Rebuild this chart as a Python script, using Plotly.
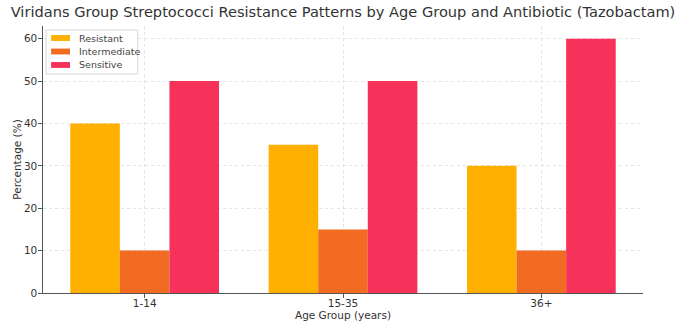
import plotly.graph_objects as go

categories = ["1-14", "15-35", "36+"]
resistant = [40, 35, 30]
intermediate = [10, 15, 10]
sensitive = [50, 50, 60]
series_names = ["Resistant", "Intermediate", "Sensitive"]
colors = ["#FFB000", "#F26B22", "#F7325A"]

fig = go.Figure()
for name, vals, c in zip(series_names, [resistant, intermediate, sensitive], colors):
    fig.add_trace(go.Bar(x=categories, y=vals, name=name, showlegend=False,
                         marker=dict(color=c, line=dict(width=0))))

font = "DejaVu Sans, sans-serif"

# compact legend (matplotlib style) drawn in paper coordinates
fig.add_shape(type="rect", xref="paper", yref="paper", x0=0.005, x1=0.158, y0=0.820, y1=0.985,
              line=dict(color="#d6d6d6", width=1), fillcolor="rgba(255,255,255,0.85)", layer="above")
row_step = 0.0505
for i, (name, c) in enumerate(zip(series_names, colors)):
    yc = 0.955 - i * row_step
    fig.add_shape(type="rect", xref="paper", yref="paper", x0=0.0135, x1=0.045,
                  y0=yc - 0.011, y1=yc + 0.011, line=dict(width=0), fillcolor=c, layer="above")
    fig.add_annotation(text=name, xref="paper", yref="paper", x=0.056, y=yc,
                       xanchor="left", yanchor="middle", showarrow=False,
                       font=dict(size=9.5, color="#444444", family=font))

fig.update_layout(
    width=686, height=324,
    margin=dict(l=43, r=43, t=26, b=31),
    paper_bgcolor="white", plot_bgcolor="white",
    barmode="group", bargap=0.25, bargroupgap=0,
    font=dict(family=font, size=11, color="#333333"),
    showlegend=False,
    title=dict(text="Viridans Group Streptococci Resistance Patterns by Age Group and Antibiotic (Tazobactam)",
               x=0.5, xanchor="center", y=0.962, yanchor="middle", automargin=False,
               font=dict(size=14.6, color="#333333")),
    xaxis=dict(title=dict(text="Age Group (years)", font=dict(size=10.5), standoff=2),
               range=[-0.5125, 2.5125], showgrid=True, gridcolor="#e4e4e4", griddash="dot",
               showline=True, linecolor="#555555", linewidth=1.2, ticks="outside",
               ticklen=3.5, tickcolor="#555555", tickfont=dict(size=10.5), automargin=False,
               ticklabelstandoff=-3),
    yaxis=dict(title=dict(text="Percentage (%)", font=dict(size=10.5), standoff=0),
               range=[0, 63], dtick=10, showgrid=True, gridcolor="#e4e4e4", griddash="dot",
               showline=True, linecolor="#555555", linewidth=1.2, ticks="outside",
               ticklen=3.5, tickcolor="#555555", tickfont=dict(size=10.5), zeroline=False,
               automargin=False, ticklabelstandoff=-1),
)
fig.write_html("out.html", config={"displayModeBar": False},
               post_script="document.body.style.margin='0px';document.body.style.overflow='hidden';")
